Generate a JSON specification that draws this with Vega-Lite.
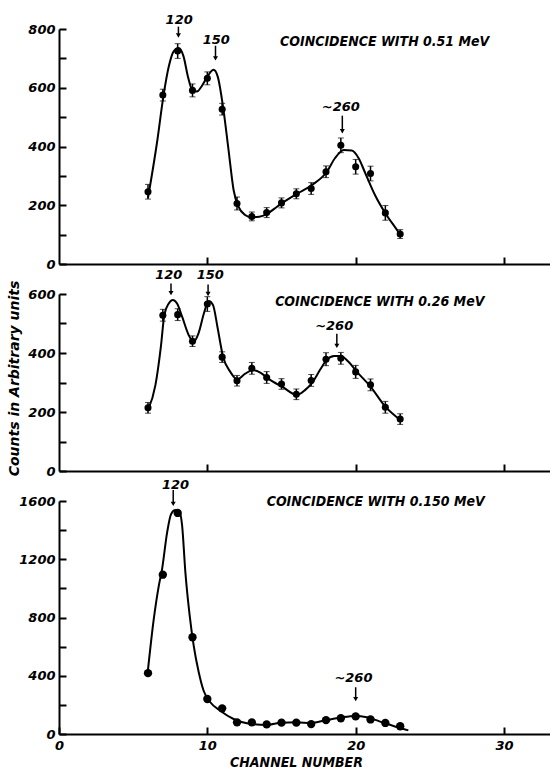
{
  "$schema": "https://vega.github.io/schema/vega-lite/v6.json",
  "background": "white",
  "padding": {"left": 6, "top": 13, "right": 0, "bottom": 2},
  "spacing": 30,
  "bounds": "flush",
  "config": {
    "view": {"stroke": null},
    "axis": {
      "domainColor": "black", "domainWidth": 2, "tickColor": "black", "tickWidth": 2, "tickSize": -7,
      "grid": false, "labelFlush": false, "labelFont": "DejaVu Sans", "labelFontSize": 13,
      "labelFontWeight": "bold", "labelFontStyle": "italic", "labelColor": "black", "labelPadding": 11,
      "titleColor": "black", "titleFont": "DejaVu Sans Condensed", "titleFontStyle": "italic",
      "titleFontWeight": "bold", "titleFontSize": 14
    }
  },
  "datasets": {
    "p1": [
      {"x": 6, "y": 246, "e": 25}, {"x": 7, "y": 575, "e": 20}, {"x": 8, "y": 725, "e": 25},
      {"x": 9, "y": 591, "e": 22}, {"x": 10, "y": 632, "e": 22}, {"x": 11, "y": 527, "e": 20},
      {"x": 12, "y": 206, "e": 22}, {"x": 13, "y": 162, "e": 15}, {"x": 14, "y": 175, "e": 17},
      {"x": 15, "y": 208, "e": 17}, {"x": 16, "y": 239, "e": 17}, {"x": 17, "y": 257, "e": 20},
      {"x": 18, "y": 314, "e": 20}, {"x": 19, "y": 404, "e": 25}, {"x": 20, "y": 331, "e": 25},
      {"x": 21, "y": 308, "e": 25}, {"x": 22, "y": 174, "e": 25}, {"x": 23, "y": 102, "e": 15}
    ],
    "c1": [
      {"x": 6.0, "y": 225}, {"x": 6.6, "y": 411}, {"x": 7.05, "y": 575}, {"x": 7.4, "y": 672},
      {"x": 7.72, "y": 723}, {"x": 8.06, "y": 735}, {"x": 8.4, "y": 706}, {"x": 8.69, "y": 638},
      {"x": 8.96, "y": 595}, {"x": 9.3, "y": 587}, {"x": 9.63, "y": 606}, {"x": 10.08, "y": 644},
      {"x": 10.42, "y": 661}, {"x": 10.7, "y": 638}, {"x": 11.09, "y": 524}, {"x": 11.43, "y": 388},
      {"x": 11.77, "y": 252}, {"x": 12.1, "y": 195}, {"x": 12.55, "y": 167}, {"x": 13.0, "y": 159},
      {"x": 13.5, "y": 161}, {"x": 14.0, "y": 170}, {"x": 14.7, "y": 195}, {"x": 15.0, "y": 206},
      {"x": 16.0, "y": 238}, {"x": 17.05, "y": 269}, {"x": 18.06, "y": 314}, {"x": 18.6, "y": 360},
      {"x": 19.2, "y": 388}, {"x": 19.74, "y": 386}, {"x": 20.2, "y": 360}, {"x": 20.65, "y": 309},
      {"x": 21.3, "y": 235}, {"x": 22.0, "y": 173}, {"x": 22.7, "y": 122}, {"x": 23.1, "y": 93}
    ],
    "a1": [
      {"x": 8.1, "y": 831, "t": "120"}, {"x": 10.6, "y": 763, "t": "150"}, {"x": 19.0, "y": 536, "t": "~260"}
    ],
    "r1": [
      {"x": 8.05, "y": 808, "y2": 778}, {"x": 10.55, "y": 743, "y2": 700}, {"x": 19.1, "y": 505, "y2": 452}
    ],
    "t1": [{"x": 14.9, "y": 755, "t": "COINCIDENCE WITH 0.51 MeV"}],
    "p2": [
      {"x": 6, "y": 214, "e": 18}, {"x": 7, "y": 528, "e": 20}, {"x": 8, "y": 530, "e": 20},
      {"x": 9, "y": 440, "e": 18}, {"x": 10, "y": 566, "e": 25}, {"x": 11, "y": 386, "e": 18},
      {"x": 12, "y": 306, "e": 18}, {"x": 13, "y": 348, "e": 20}, {"x": 14, "y": 317, "e": 20},
      {"x": 15, "y": 295, "e": 18}, {"x": 16, "y": 260, "e": 18}, {"x": 17, "y": 307, "e": 20},
      {"x": 18, "y": 379, "e": 22}, {"x": 19, "y": 382, "e": 20}, {"x": 20, "y": 336, "e": 22},
      {"x": 21, "y": 292, "e": 20}, {"x": 22, "y": 216, "e": 20}, {"x": 23, "y": 176, "e": 18}
    ],
    "c2": [
      {"x": 6.0, "y": 206}, {"x": 6.5, "y": 291}, {"x": 6.88, "y": 427}, {"x": 7.1, "y": 529},
      {"x": 7.4, "y": 568}, {"x": 7.67, "y": 580}, {"x": 7.96, "y": 568}, {"x": 8.3, "y": 523},
      {"x": 8.74, "y": 461}, {"x": 9.08, "y": 438}, {"x": 9.4, "y": 466}, {"x": 9.8, "y": 540},
      {"x": 10.09, "y": 576}, {"x": 10.38, "y": 563}, {"x": 10.7, "y": 483}, {"x": 11.06, "y": 387},
      {"x": 11.55, "y": 336}, {"x": 12.0, "y": 311}, {"x": 12.56, "y": 330}, {"x": 13.07, "y": 342},
      {"x": 13.6, "y": 333}, {"x": 14.1, "y": 313}, {"x": 14.8, "y": 292}, {"x": 15.03, "y": 286},
      {"x": 16.04, "y": 258}, {"x": 16.6, "y": 275}, {"x": 17.05, "y": 298}, {"x": 17.6, "y": 343},
      {"x": 18.05, "y": 377}, {"x": 18.55, "y": 390}, {"x": 19.0, "y": 390}, {"x": 19.5, "y": 371},
      {"x": 20.07, "y": 337}, {"x": 21.0, "y": 286}, {"x": 22.0, "y": 218}, {"x": 23.0, "y": 173}
    ],
    "a2": [
      {"x": 7.4, "y": 665, "t": "120"}, {"x": 10.2, "y": 665, "t": "150"}, {"x": 18.55, "y": 490, "t": "~260"}
    ],
    "r2": [
      {"x": 7.55, "y": 636, "y2": 603}, {"x": 10.05, "y": 632, "y2": 600}, {"x": 18.73, "y": 465, "y2": 424}
    ],
    "t2": [{"x": 14.57, "y": 573, "t": "COINCIDENCE WITH 0.26 MeV"}],
    "p3": [
      {"x": 6, "y": 418}, {"x": 7, "y": 1094}, {"x": 8, "y": 1518}, {"x": 9, "y": 664},
      {"x": 10, "y": 240}, {"x": 11, "y": 176}, {"x": 12, "y": 80}, {"x": 13, "y": 80},
      {"x": 14, "y": 66}, {"x": 15, "y": 78}, {"x": 16, "y": 78}, {"x": 17, "y": 68},
      {"x": 18, "y": 95}, {"x": 19, "y": 108}, {"x": 20, "y": 121}, {"x": 21, "y": 100},
      {"x": 22, "y": 76}, {"x": 23, "y": 53}
    ],
    "c3": [
      {"x": 5.98, "y": 424}, {"x": 6.39, "y": 790}, {"x": 6.73, "y": 1019}, {"x": 6.95, "y": 1133},
      {"x": 7.29, "y": 1385}, {"x": 7.56, "y": 1511}, {"x": 7.85, "y": 1538}, {"x": 8.14, "y": 1522},
      {"x": 8.3, "y": 1431}, {"x": 8.52, "y": 1110}, {"x": 8.81, "y": 813}, {"x": 9.08, "y": 607},
      {"x": 9.42, "y": 424}, {"x": 9.75, "y": 297}, {"x": 10.2, "y": 218}, {"x": 10.87, "y": 160},
      {"x": 11.77, "y": 103}, {"x": 12.9, "y": 69}, {"x": 14.0, "y": 62}, {"x": 15.0, "y": 78},
      {"x": 16.0, "y": 80}, {"x": 17.0, "y": 76}, {"x": 18.0, "y": 95}, {"x": 19.0, "y": 113},
      {"x": 19.96, "y": 124}, {"x": 20.75, "y": 115}, {"x": 21.6, "y": 87}, {"x": 22.5, "y": 57},
      {"x": 23.55, "y": 25}
    ],
    "a3": [
      {"x": 7.85, "y": 1710, "t": "120"}, {"x": 19.85, "y": 383, "t": "~260"}
    ],
    "r3": [
      {"x": 7.7, "y": 1675, "y2": 1580}, {"x": 20.0, "y": 321, "y2": 240}
    ],
    "t3": [{"x": 14.0, "y": 1591, "t": "COINCIDENCE WITH 0.150 MeV"}]
  },
  "vconcat": [
    {
      "width": 491, "height": 235,
      "encoding": {
        "x": {"field": "x", "type": "quantitative", "scale": {"domain": [0, 33.1], "nice": false, "zero": false},
              "axis": {"values": [10, 20, 30], "labels": false, "title": null}},
        "y": {"field": "y", "type": "quantitative", "scale": {"domain": [0, 800], "nice": false},
              "axis": {"values": [0, 100, 200, 300, 400, 500, 600, 700, 800], "format": "d", "labelExpr": "datum.value % 200 === 0 ? datum.label : ''", "title": null}}
      },
      "layer": [
        {"data": {"name": "c1"}, "mark": {"type": "line", "interpolate": "monotone", "color": "black", "strokeWidth": 2}},
        {"data": {"name": "p1"}, "mark": {"type": "errorbar", "ticks": {"size": 6, "color": "black", "strokeWidth": 1.5}, "rule": {"color": "black", "strokeWidth": 1.5}},
         "encoding": {"yError": {"field": "e"}}},
        {"data": {"name": "p1"}, "mark": {"type": "point", "filled": true, "color": "black", "size": 50, "opacity": 1}},
        {"data": {"name": "r1"}, "mark": {"type": "rule", "color": "black", "strokeWidth": 1.5}, "encoding": {"y2": {"field": "y2"}}},
        {"data": {"name": "r1"}, "mark": {"type": "point", "shape": "triangle-down", "filled": true, "color": "black", "size": 25, "opacity": 1},
         "encoding": {"y": {"field": "y2", "type": "quantitative"}}},
        {"data": {"name": "a1"}, "mark": {"type": "text", "font": "DejaVu Sans", "fontStyle": "italic", "fontWeight": "bold", "fontSize": 13, "align": "center", "baseline": "middle", "color": "black"},
         "encoding": {"text": {"field": "t"}}},
        {"data": {"name": "t1"}, "mark": {"type": "text", "font": "DejaVu Sans Condensed", "fontStyle": "italic", "fontWeight": "bold", "fontSize": 14, "align": "left", "baseline": "middle", "color": "black"},
         "encoding": {"text": {"field": "t"}}}
      ]
    },
    {
      "width": 491, "height": 177,
      "encoding": {
        "x": {"field": "x", "type": "quantitative", "scale": {"domain": [0, 33.1], "nice": false, "zero": false},
              "axis": {"values": [10, 20, 30], "labels": false, "title": null}},
        "y": {"field": "y", "type": "quantitative", "scale": {"domain": [0, 600], "nice": false},
              "axis": {"values": [0, 100, 200, 300, 400, 500, 600], "format": "d", "labelExpr": "datum.value % 200 === 0 ? datum.label : ''",
                       "title": "Counts in Arbitrary units", "titleX": -45, "titleY": 84, "titleBaseline": "middle", "titleFont": "DejaVu Sans", "titleFontSize": 14}}
      },
      "layer": [
        {"data": {"name": "c2"}, "mark": {"type": "line", "interpolate": "monotone", "color": "black", "strokeWidth": 2}},
        {"data": {"name": "p2"}, "mark": {"type": "errorbar", "ticks": {"size": 6, "color": "black", "strokeWidth": 1.5}, "rule": {"color": "black", "strokeWidth": 1.5}},
         "encoding": {"yError": {"field": "e"}}},
        {"data": {"name": "p2"}, "mark": {"type": "point", "filled": true, "color": "black", "size": 50, "opacity": 1}},
        {"data": {"name": "r2"}, "mark": {"type": "rule", "color": "black", "strokeWidth": 1.5}, "encoding": {"y2": {"field": "y2"}}},
        {"data": {"name": "r2"}, "mark": {"type": "point", "shape": "triangle-down", "filled": true, "color": "black", "size": 25, "opacity": 1},
         "encoding": {"y": {"field": "y2", "type": "quantitative"}}},
        {"data": {"name": "a2"}, "mark": {"type": "text", "font": "DejaVu Sans", "fontStyle": "italic", "fontWeight": "bold", "fontSize": 13, "align": "center", "baseline": "middle", "color": "black"},
         "encoding": {"text": {"field": "t"}}},
        {"data": {"name": "t2"}, "mark": {"type": "text", "font": "DejaVu Sans Condensed", "fontStyle": "italic", "fontWeight": "bold", "fontSize": 14, "align": "left", "baseline": "middle", "color": "black"},
         "encoding": {"text": {"field": "t"}}}
      ]
    },
    {
      "width": 491, "height": 233,
      "encoding": {
        "x": {"field": "x", "type": "quantitative", "scale": {"domain": [0, 33.1], "nice": false, "zero": false},
              "axis": {"values": [0, 10, 20, 30], "labelPadding": 12, "title": "CHANNEL NUMBER", "titleX": 237, "titleY": 28, "titleBaseline": "middle"}},
        "y": {"field": "y", "type": "quantitative", "scale": {"domain": [0, 1600], "nice": false},
              "axis": {"values": [0, 200, 400, 600, 800, 1000, 1200, 1400, 1600], "format": "d", "labelExpr": "datum.value % 400 === 0 ? datum.label : ''", "title": null}}
      },
      "layer": [
        {"data": {"name": "c3"}, "mark": {"type": "line", "interpolate": "monotone", "color": "black", "strokeWidth": 2}},
        {"data": {"name": "p3"}, "mark": {"type": "point", "filled": true, "color": "black", "size": 70, "opacity": 1}},
        {"data": {"name": "r3"}, "mark": {"type": "rule", "color": "black", "strokeWidth": 1.5}, "encoding": {"y2": {"field": "y2"}}},
        {"data": {"name": "r3"}, "mark": {"type": "point", "shape": "triangle-down", "filled": true, "color": "black", "size": 25, "opacity": 1},
         "encoding": {"y": {"field": "y2", "type": "quantitative"}}},
        {"data": {"name": "a3"}, "mark": {"type": "text", "font": "DejaVu Sans", "fontStyle": "italic", "fontWeight": "bold", "fontSize": 13, "align": "center", "baseline": "middle", "color": "black"},
         "encoding": {"text": {"field": "t"}}},
        {"data": {"name": "t3"}, "mark": {"type": "text", "font": "DejaVu Sans Condensed", "fontStyle": "italic", "fontWeight": "bold", "fontSize": 14, "align": "left", "baseline": "middle", "color": "black"},
         "encoding": {"text": {"field": "t"}}}
      ]
    }
  ]
}
